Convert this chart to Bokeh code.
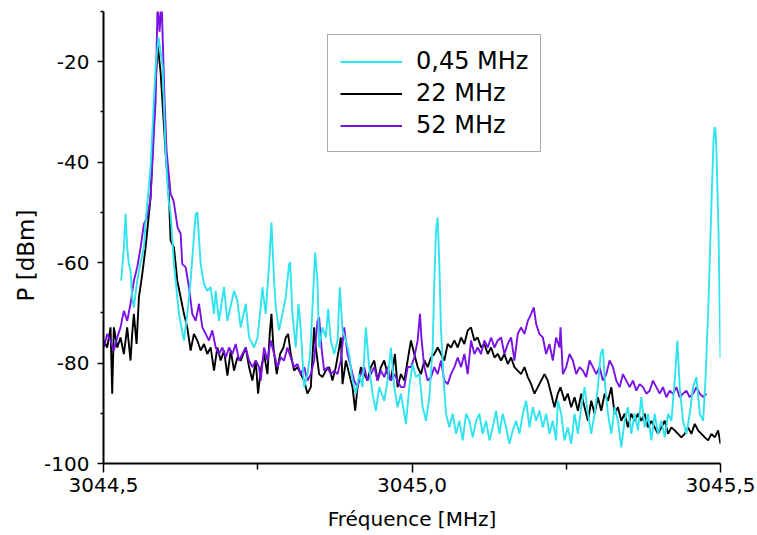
from bokeh.plotting import figure
from bokeh.models import Range1d, FixedTicker, Legend, LegendItem, Title
from bokeh.embed import file_html
from bokeh.resources import INLINE

# ---- data ----
SERIES_LABELS = ["0,45 MHz", "22 MHz", "52 MHz"]

X_TICKS = [3044.5, 3045.0, 3045.5]
X_TICK_LABELS = ["3044,5", "3045,0", "3045,5"]
X_MINOR = [3044.75, 3045.25]
Y_TICKS = [-100, -80, -60, -40, -20]
Y_TICK_LABELS = ["-100", "-80", "-60", "-40", "-20"]
Y_MINOR = [-90, -70, -50, -30, -10]

CYAN_F = [3044.5287, 3044.5330, 3044.5357, 3044.5384, 3044.5411, 3044.5438, 3044.5465, 3044.5492, 3044.5547, 3044.5601,
          3044.5655, 3044.5682, 3044.5763, 3044.5844, 3044.5893, 3044.5958, 3044.6006, 3044.6055, 3044.6088, 3044.6142,
          3044.6223, 3044.6304, 3044.6358, 3044.6412, 3044.6494, 3044.6521, 3044.6575, 3044.6629, 3044.6683, 3044.6737,
          3044.6791, 3044.6818, 3044.6872, 3044.6953, 3044.7008, 3044.7116, 3044.7170, 3044.7224, 3044.7305, 3044.7359,
          3044.7441, 3044.7495, 3044.7548, 3044.7575, 3044.7629, 3044.7684, 3044.7722, 3044.7765, 3044.7792, 3044.7846,
          3044.7900, 3044.7954, 3044.8008, 3044.8025, 3044.8062, 3044.8116, 3044.8160, 3044.8198, 3044.8252, 3044.8306,
          3044.8349, 3044.8387, 3044.8430, 3044.8468, 3044.8495, 3044.8549, 3044.8603, 3044.8641, 3044.8684, 3044.8738,
          3044.8793, 3044.8830, 3044.8874, 3044.8928, 3044.8982, 3044.9036, 3044.9090, 3044.9144, 3044.9198, 3044.9252,
          3044.9306, 3044.9361, 3044.9415, 3044.9469, 3044.9550, 3044.9604, 3044.9658, 3044.9712, 3044.9766, 3044.9820,
          3044.9875, 3044.9902, 3044.9956, 3045.0010, 3045.0064, 3045.0119, 3045.0173, 3045.0227, 3045.0281, 3045.0335,
          3045.0362, 3045.0389, 3045.0416, 3045.0443, 3045.0470, 3045.0514, 3045.0551, 3045.0605, 3045.0660, 3045.0714,
          3045.0768, 3045.0822, 3045.0876, 3045.0930, 3045.0984, 3045.1038, 3045.1092, 3045.1146, 3045.1200, 3045.1255,
          3045.1309, 3045.1363, 3045.1417, 3045.1471, 3045.1525, 3045.1579, 3045.1633, 3045.1687, 3045.1741, 3045.1796,
          3045.1850, 3045.1904, 3045.1958, 3045.2012, 3045.2066, 3045.2120, 3045.2174, 3045.2228, 3045.2282, 3045.2336,
          3045.2364, 3045.2418, 3045.2472, 3045.2526, 3045.2580, 3045.2635, 3045.2689, 3045.2743, 3045.2797, 3045.2851,
          3045.2905, 3045.2959, 3045.3013, 3045.3057, 3045.3094, 3045.3132, 3045.3176, 3045.3230, 3045.3284, 3045.3338,
          3045.3392, 3045.3446, 3045.3500, 3045.3554, 3045.3609, 3045.3663, 3045.3717, 3045.3771, 3045.3825, 3045.3879,
          3045.3933, 3045.3987, 3045.4041, 3045.4096, 3045.4150, 3045.4204, 3045.4258, 3045.4301, 3045.4339, 3045.4393,
          3045.4447, 3045.4501, 3045.4555, 3045.4610, 3045.4664, 3045.4718, 3045.4756, 3045.4805, 3045.4854, 3045.4886,
          3045.4903, 3045.4919, 3045.4935, 3045.4968, 3045.5000]
CYAN_P = [-63.6, -57.0, -50.3, -57.0, -60.3, -61.6, -66.9, -68.9, -63.6, -60.0,
          -57.0, -52.0, -41.0, -21.0, -15.2, -21.0, -37.7, -47.7, -50.3, -60.3,
          -70.2, -75.5, -70.2, -63.6, -50.3, -50.0, -60.3, -64.3, -65.6, -64.9,
          -70.2, -65.6, -71.6, -64.9, -71.6, -65.6, -67.6, -72.9, -68.2, -74.9,
          -76.9, -75.0, -68.9, -64.9, -70.2, -60.3, -52.0, -63.6, -68.9, -73.5,
          -70.2, -66.9, -60.3, -59.9, -70.2, -76.9, -68.2, -73.5, -84.8, -82.2,
          -78.2, -68.9, -58.0, -63.6, -76.9, -72.9, -74.9, -69.2, -75.5, -78.2,
          -75.5, -64.9, -73.5, -75.5, -78.2, -83.5, -86.1, -82.2, -84.8, -72.9,
          -80.8, -86.1, -89.5, -84.8, -87.5, -83.5, -76.9, -84.8, -88.8, -86.1,
          -90.1, -92.1, -84.8, -80.2, -82.8, -82.2, -88.8, -91.5, -86.8, -76.9,
          -63.6, -53.6, -51.0, -60.3, -73.5, -83.5, -90.1, -92.8, -90.1, -94.1,
          -91.5, -95.4, -90.1, -91.5, -94.8, -91.5, -90.1, -94.1, -91.5, -95.4,
          -92.8, -89.5, -94.1, -90.1, -92.8, -96.1, -93.4, -91.5, -94.1, -90.1,
          -87.5, -92.8, -88.8, -91.5, -89.5, -92.8, -90.1, -94.1, -91.5, -95.4,
          -87.5, -90.1, -95.4, -92.8, -96.1, -90.1, -94.1, -88.8, -84.8, -90.1,
          -94.1, -90.1, -84.8, -78.2, -77.2, -84.8, -90.1, -94.1, -88.8, -91.5,
          -96.8, -91.5, -88.8, -94.1, -90.1, -93.4, -86.8, -92.8, -90.1, -95.4,
          -90.1, -94.1, -91.5, -94.8, -90.1, -91.5, -83.5, -75.5, -84.8, -91.5,
          -94.1, -90.1, -84.8, -82.8, -90.1, -91.5, -83.5, -68.0, -48.0, -36.0,
          -33.0, -33.5, -38.0, -54.0, -79.0]

BLACK_F = [3044.5005, 3044.5060, 3044.5114, 3044.5141, 3044.5168, 3044.5222, 3044.5276, 3044.5330, 3044.5384, 3044.5438,
           3044.5465, 3044.5492, 3044.5536, 3044.5574, 3044.5628, 3044.5682, 3044.5763, 3044.5830, 3044.5877, 3044.5925,
           3044.6006, 3044.6061, 3044.6088, 3044.6142, 3044.6196, 3044.6250, 3044.6304, 3044.6358, 3044.6412, 3044.6466,
           3044.6521, 3044.6575, 3044.6629, 3044.6683, 3044.6737, 3044.6791, 3044.6845, 3044.6899, 3044.6953, 3044.7008,
           3044.7062, 3044.7116, 3044.7170, 3044.7224, 3044.7305, 3044.7359, 3044.7413, 3044.7468, 3044.7505, 3044.7548,
           3044.7602, 3044.7657, 3044.7694, 3044.7722, 3044.7754, 3044.7808, 3044.7862, 3044.7916, 3044.7954, 3044.7992,
           3044.8035, 3044.8089, 3044.8143, 3044.8198, 3044.8252, 3044.8306, 3044.8360, 3044.8414, 3044.8441, 3044.8495,
           3044.8549, 3044.8603, 3044.8657, 3044.8711, 3044.8765, 3044.8820, 3044.8847, 3044.8874, 3044.8928, 3044.8982,
           3044.9036, 3044.9079, 3044.9117, 3044.9171, 3044.9225, 3044.9279, 3044.9333, 3044.9388, 3044.9442, 3044.9496,
           3044.9550, 3044.9604, 3044.9658, 3044.9723, 3044.9766, 3044.9820, 3044.9875, 3044.9929, 3044.9983, 3045.0037,
           3045.0092, 3045.0146, 3045.0200, 3045.0254, 3045.0308, 3045.0362, 3045.0416, 3045.0470, 3045.0524, 3045.0578,
           3045.0632, 3045.0687, 3045.0741, 3045.0795, 3045.0849, 3045.0903, 3045.0957, 3045.1011, 3045.1065, 3045.1119,
           3045.1173, 3045.1228, 3045.1282, 3045.1336, 3045.1390, 3045.1444, 3045.1498, 3045.1552, 3045.1606, 3045.1660,
           3045.1714, 3045.1768, 3045.1823, 3045.1877, 3045.1931, 3045.1985, 3045.2039, 3045.2093, 3045.2147, 3045.2201,
           3045.2255, 3045.2309, 3045.2363, 3045.2407, 3045.2472, 3045.2526, 3045.2580, 3045.2635, 3045.2689, 3045.2743,
           3045.2797, 3045.2851, 3045.2905, 3045.2959, 3045.3013, 3045.3067, 3045.3122, 3045.3176, 3045.3230, 3045.3284,
           3045.3338, 3045.3392, 3045.3446, 3045.3500, 3045.3554, 3045.3609, 3045.3663, 3045.3717, 3045.3771, 3045.3825,
           3045.3879, 3045.3933, 3045.3987, 3045.4041, 3045.4096, 3045.4150, 3045.4204, 3045.4258, 3045.4312, 3045.4366,
           3045.4420, 3045.4474, 3045.4528, 3045.4583, 3045.4637, 3045.4691, 3045.4745, 3045.4799, 3045.4853, 3045.4907,
           3045.4961, 3045.5000]
BLACK_P = [-75.5, -76.9, -72.9, -86.1, -72.9, -76.9, -74.9, -78.2, -72.9, -79.5,
           -74.2, -70.2, -76.2, -66.9, -62.3, -57.0, -47.0, -28.0, -16.5, -22.0,
           -38.0, -47.0, -55.6, -57.0, -63.6, -66.9, -70.2, -72.9, -77.5, -74.2,
           -75.5, -77.5, -76.2, -78.2, -76.9, -81.5, -76.9, -79.5, -77.5, -82.5,
           -77.5, -81.5, -78.9, -79.5, -76.9, -80.8, -83.5, -79.5, -86.1, -81.5,
           -78.2, -82.2, -74.2, -70.2, -76.9, -82.2, -78.2, -76.9, -74.9, -74.2,
           -78.2, -81.5, -80.8, -82.2, -83.5, -86.1, -84.8, -72.9, -76.9, -82.2,
           -82.8, -81.5, -80.8, -83.5, -80.8, -76.9, -74.9, -84.2, -79.5, -82.2,
           -84.8, -89.5, -84.8, -80.8, -82.2, -83.5, -80.8, -79.5, -83.5, -80.8,
           -79.5, -82.2, -83.5, -78.2, -84.8, -82.2, -83.5, -79.5, -75.5, -78.2,
           -80.8, -82.2, -79.5, -80.8, -78.9, -78.2, -76.9, -78.2, -79.5, -76.2,
           -76.9, -75.5, -76.9, -74.9, -76.2, -73.5, -72.9, -75.5, -74.9, -76.9,
           -76.2, -78.2, -76.9, -78.9, -78.2, -79.5, -78.2, -80.2, -78.9, -80.8,
           -81.5, -82.2, -80.8, -82.8, -84.2, -86.1, -84.8, -83.5, -82.2, -83.5,
           -86.1, -88.8, -86.1, -84.8, -87.5, -86.1, -88.8, -86.8, -89.5, -86.1,
           -88.8, -91.5, -87.5, -90.1, -86.8, -89.5, -86.1, -87.5, -84.8, -90.1,
           -88.8, -91.5, -90.1, -92.8, -90.1, -91.5, -90.1, -91.5, -90.1, -92.8,
           -91.5, -92.8, -94.1, -92.8, -91.5, -94.1, -92.8, -93.4, -94.1, -94.8,
           -94.1, -92.8, -94.1, -92.1, -93.4, -94.1, -94.8, -95.4, -94.1, -94.8,
           -93.4, -96.1]

PURPLE_F = [3044.5005, 3044.5060, 3044.5114, 3044.5168, 3044.5222, 3044.5276, 3044.5330, 3044.5384, 3044.5438, 3044.5492,
            3044.5547, 3044.5601, 3044.5655, 3044.5709, 3044.5763, 3044.5844, 3044.5877, 3044.5909, 3044.5942, 3044.5990,
            3044.6022, 3044.6088, 3044.6136, 3044.6201, 3044.6250, 3044.6277, 3044.6331, 3044.6385, 3044.6439, 3044.6494,
            3044.6548, 3044.6602, 3044.6656, 3044.6710, 3044.6764, 3044.6818, 3044.6872, 3044.6926, 3044.6981, 3044.7035,
            3044.7089, 3044.7143, 3044.7197, 3044.7251, 3044.7305, 3044.7359, 3044.7413, 3044.7468, 3044.7522, 3044.7548,
            3044.7602, 3044.7657, 3044.7711, 3044.7765, 3044.7819, 3044.7873, 3044.7927, 3044.7981, 3044.8035, 3044.8089,
            3044.8143, 3044.8198, 3044.8252, 3044.8306, 3044.8360, 3044.8414, 3044.8468, 3044.8495, 3044.8533, 3044.8576,
            3044.8630, 3044.8684, 3044.8738, 3044.8793, 3044.8847, 3044.8901, 3044.8955, 3044.9009, 3044.9063, 3044.9117,
            3044.9171, 3044.9225, 3044.9279, 3044.9333, 3044.9388, 3044.9442, 3044.9496, 3044.9550, 3044.9604, 3044.9658,
            3044.9712, 3044.9766, 3044.9820, 3044.9875, 3044.9929, 3044.9983, 3045.0037, 3045.0092, 3045.0129, 3045.0156,
            3045.0200, 3045.0254, 3045.0308, 3045.0362, 3045.0416, 3045.0470, 3045.0524, 3045.0578, 3045.0632, 3045.0687,
            3045.0741, 3045.0795, 3045.0849, 3045.0903, 3045.0957, 3045.1011, 3045.1065, 3045.1119, 3045.1173, 3045.1228,
            3045.1282, 3045.1336, 3045.1390, 3045.1444, 3045.1498, 3045.1552, 3045.1606, 3045.1660, 3045.1714, 3045.1768,
            3045.1823, 3045.1877, 3045.1931, 3045.1974, 3045.2012, 3045.2066, 3045.2120, 3045.2174, 3045.2228, 3045.2282,
            3045.2336, 3045.2391, 3045.2407, 3045.2445, 3045.2499, 3045.2553, 3045.2607, 3045.2662, 3045.2716, 3045.2770,
            3045.2824, 3045.2878, 3045.2932, 3045.2986, 3045.3040, 3045.3094, 3045.3149, 3045.3203, 3045.3257, 3045.3311,
            3045.3365, 3045.3419, 3045.3473, 3045.3527, 3045.3581, 3045.3636, 3045.3690, 3045.3744, 3045.3798, 3045.3852,
            3045.3906, 3045.3960, 3045.4014, 3045.4068, 3045.4123, 3045.4177, 3045.4231, 3045.4285, 3045.4339, 3045.4393,
            3045.4447, 3045.4501, 3045.4555, 3045.4610, 3045.4664, 3045.4718, 3045.4772]
PURPLE_P = [-76.9, -74.2, -75.5, -77.5, -74.9, -72.9, -69.6, -71.6, -68.2, -63.6,
            -60.9, -57.0, -52.3, -51.0, -47.0, -28.0, -8.0, -14.0, -8.0, -28.0,
            -37.7, -46.3, -47.7, -53.0, -54.2, -60.3, -60.9, -64.9, -70.2, -71.6,
            -68.2, -72.9, -74.2, -75.5, -73.5, -76.9, -78.2, -76.9, -78.9, -76.9,
            -78.2, -76.2, -79.5, -78.2, -76.9, -79.5, -80.8, -79.5, -80.8, -83.5,
            -76.9, -79.5, -75.5, -78.2, -80.8, -78.9, -79.5, -76.9, -78.9, -80.8,
            -80.2, -82.2, -80.8, -83.5, -82.2, -79.5, -71.6, -70.9, -76.9, -81.5,
            -80.8, -82.2, -81.5, -82.2, -79.5, -72.9, -78.2, -80.8, -83.5, -84.8,
            -82.2, -80.8, -83.5, -82.2, -80.8, -83.5, -81.5, -82.8, -80.8, -83.5,
            -82.2, -83.5, -84.8, -84.8, -80.8, -80.8, -78.9, -75.5, -70.2, -75.5,
            -80.8, -83.5, -82.8, -80.8, -82.2, -79.5, -83.5, -84.2, -82.2, -80.8,
            -78.9, -80.8, -78.2, -82.2, -75.5, -78.2, -76.9, -78.2, -75.5, -76.9,
            -74.9, -76.9, -75.5, -74.9, -78.2, -76.2, -74.9, -79.5, -74.2, -72.9,
            -74.2, -71.6, -70.2, -68.9, -72.2, -74.2, -74.9, -78.2, -76.2, -79.5,
            -74.9, -76.9, -72.9, -82.2, -80.8, -78.2, -79.5, -82.2, -80.8, -81.5,
            -82.8, -79.5, -80.8, -82.2, -80.8, -83.5, -82.2, -79.5, -80.8, -83.5,
            -84.8, -82.2, -83.5, -84.8, -83.5, -85.5, -84.2, -84.8, -86.1, -85.5,
            -83.5, -84.8, -86.1, -84.8, -86.8, -85.5, -86.1, -84.8, -86.8, -86.1,
            -85.5, -86.8, -86.1, -84.8, -86.1, -86.8, -86.1]

COLORS = ["#2fe3ef", "#000000", "#7a12e6"]
Y_TITLE = "P [dBm]"
X_TITLE = "Fréquence [MHz]"

for f, v in ((CYAN_F, CYAN_P), (BLACK_F, BLACK_P), (PURPLE_F, PURPLE_P)):
    assert len(f) == len(v), (len(f), len(v))

FONT = "DejaVu Sans"

p = figure(width=755, height=533,
           x_range=Range1d(3044.5, 3045.5), y_range=Range1d(-100, -10),
           output_backend="svg", toolbar_location=None,
           min_border_left=103, min_border_right=35, min_border_top=11, min_border_bottom=69)
p.outline_line_color = None
p.grid.visible = False
p.background_fill_color = "white"
p.border_fill_color = "white"

r_black = p.line(BLACK_F, BLACK_P, line_color=COLORS[1], line_width=1.9)
r_purple = p.line(PURPLE_F, PURPLE_P, line_color=COLORS[2], line_width=1.9)
r_cyan = p.line(CYAN_F, CYAN_P, line_color=COLORS[0], line_width=1.9)

xa = p.xaxis[0]
xa.ticker = FixedTicker(ticks=X_TICKS, minor_ticks=X_MINOR)
xa.major_label_overrides = dict(zip(X_TICKS, X_TICK_LABELS))
xa.axis_label = X_TITLE
ya = p.yaxis[0]
ya.ticker = FixedTicker(ticks=Y_TICKS, minor_ticks=Y_MINOR)
ya.major_label_overrides = dict(zip(Y_TICKS, Y_TICK_LABELS))

for ax in (xa, ya):
    ax.axis_line_color = "black"
    ax.axis_line_width = 2
    ax.major_tick_line_color = "black"
    ax.major_tick_line_width = 1.5
    ax.minor_tick_line_color = "black"
    ax.minor_tick_line_width = 1.5
    ax.major_tick_in = 0
    ax.minor_tick_in = 0
    ax.major_label_text_font = FONT
    ax.major_label_text_font_size = "20px"
    ax.major_label_text_color = "black"
    ax.axis_label_text_font = FONT
    ax.axis_label_text_font_style = "normal"
    ax.axis_label_text_color = "black"

xa.major_tick_out = 9
xa.minor_tick_out = 6
xa.major_label_standoff = 5
xa.axis_label_text_font_size = "20px"
xa.axis_label_standoff = 12
ya.major_tick_out = 6
ya.minor_tick_out = 3
ya.major_label_standoff = 8

# y-axis title as a side title, starting ~162 px above the frame bottom
y_title = Title(text=Y_TITLE, align="left", offset=162, standoff=6,
                text_font=FONT, text_font_size="23px", text_font_style="normal",
                text_color="black")
p.add_layout(y_title, "left")

legend = Legend(items=[LegendItem(label=SERIES_LABELS[0], renderers=[r_cyan]),
                       LegendItem(label=SERIES_LABELS[1], renderers=[r_black]),
                       LegendItem(label=SERIES_LABELS[2], renderers=[r_purple])],
                location=(224, 311))
legend.border_line_color = "#555555"
legend.border_line_width = 1.5
legend.background_fill_color = "white"
legend.background_fill_alpha = 1
legend.label_text_font = FONT
legend.label_text_font_size = "24px"
legend.label_text_color = "black"
legend.padding = 12
legend.spacing = 4
legend.margin = 0
legend.glyph_height = 27
legend.glyph_width = 62
legend.label_height = 27
legend.label_standoff = 14
p.add_layout(legend)

open("out.html", "w").write(file_html(p, INLINE))
